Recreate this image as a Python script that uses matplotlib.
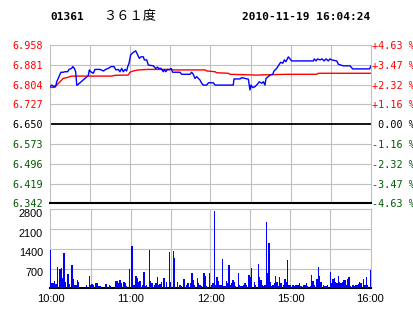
import matplotlib
matplotlib.use("Agg")
import matplotlib.pyplot as plt
from matplotlib.transforms import ScaledTranslation

# ---------------- data ----------------
# x positions are trading minutes since 10:00 (10:00-12:30, 14:30-16:00 => 0..240)
time_ticks = [0, 60, 120, 180, 240]
time_labels = ["10:00", "11:00", "12:00", "15:00", "16:00"]
grid_minutes = [30, 60, 90, 120, 150, 180, 210]

prev_close = 6.650
price_ticks = [6.958, 6.881, 6.804, 6.727, 6.650, 6.573, 6.496, 6.419, 6.342]
pct_labels = ["+4.63 %", "+3.47 %", "+2.32 %", "+1.16 %", " 0.00 %",
              "-1.16 %", "-2.32 %", "-3.47 %", "-4.63 %"]

price_t = [0, 1.3, 3.0, 4.5, 5.0, 6.2, 7.5, 8.2, 9.9, 11.2, 13.2, 14.2, 16.2, 17.0,
           18.2, 19.2, 20.0, 20.4, 28.6, 29.4, 30.4, 32.4, 33.6, 37.4, 39.9, 41.6,
           43.6, 45.6, 47.9, 49.3, 51.1, 52.3, 53.6, 54.8, 56.1, 57.3, 58.1, 59.1,
           60.3, 61.5, 63.0, 64.1, 65.6, 66.8, 68.0, 69.8, 70.5, 72.3, 73.5, 77.2,
           79.0, 80.5, 81.0, 83.0, 84.7, 85.5, 86.5, 88.0, 89.2, 90.5, 91.7, 97.2,
           98.5, 104.7, 105.9, 107.1, 108.4, 109.7, 110.9, 112.1, 113.4, 114.6,
           117.2, 118.4, 122.1, 123.4, 137.0, 137.6, 142.1, 143.3, 145.8, 148.3,
           149.5, 150.3, 151.6, 153.3, 155.0, 156.5, 158.3, 159.5, 160.7, 161.5,
           163.2, 164.5, 166.5, 167.5, 169.5, 170.7, 172.5, 174.0, 175.2, 176.4,
           178.2, 179.4, 180.7, 196.9, 197.6, 198.9, 200.1, 201.9, 203.4, 204.9,
           206.4, 208.1, 209.3, 210.6, 214.4, 215.6, 219.3, 224.3, 226.3, 239.0, 240]
price_v = [6.796, 6.802, 6.796, 6.802, 6.815, 6.828, 6.844, 6.852, 6.852, 6.854, 6.854,
           6.863, 6.867, 6.874, 6.867, 6.854, 6.802, 6.802, 6.839, 6.861, 6.854, 6.848,
           6.863, 6.863, 6.857, 6.863, 6.867, 6.874, 6.874, 6.861, 6.863, 6.854, 6.867,
           6.854, 6.863, 6.857, 6.874, 6.887, 6.919, 6.926, 6.932, 6.935, 6.919, 6.906,
           6.912, 6.912, 6.900, 6.900, 6.880, 6.877, 6.867, 6.872, 6.867, 6.867, 6.854,
           6.863, 6.854, 6.863, 6.861, 6.867, 6.852, 6.852, 6.844, 6.844, 6.852, 6.844,
           6.828, 6.835, 6.828, 6.822, 6.809, 6.802, 6.802, 6.811, 6.811, 6.802, 6.802,
           6.826, 6.826, 6.831, 6.828, 6.825, 6.783, 6.802, 6.792, 6.796, 6.805, 6.815,
           6.809, 6.815, 6.802, 6.828, 6.835, 6.841, 6.844, 6.857, 6.867, 6.877, 6.891,
           6.887, 6.900, 6.893, 6.912, 6.904, 6.896, 6.896, 6.904, 6.896, 6.904, 6.900,
           6.904, 6.896, 6.904, 6.896, 6.904, 6.900, 6.896, 6.883, 6.877, 6.877, 6.865,
           6.865, 6.877]

avg_t = [0, 3.7, 5.0, 7.5, 9.9, 12.5, 15.0, 16.2, 46.1, 48.6, 58.5, 59.8, 62.3, 66.0,
         73.5, 91.0, 92.2, 115.9, 117.2, 123.4, 124.6, 133.3, 134.6, 154.5, 177.0,
         199.4, 200.6, 240]
avg_v = [6.793, 6.793, 6.802, 6.815, 6.828, 6.831, 6.835, 6.837, 6.837, 6.840, 6.841,
         6.852, 6.857, 6.861, 6.863, 6.863, 6.861, 6.861, 6.857, 6.854, 6.850, 6.848,
         6.844, 6.841, 6.844, 6.844, 6.848, 6.848]

vol_t = [0, 1, 2, 3, 4, 5, 7, 8, 9, 10, 11, 13, 14, 16, 17, 18, 19, 20, 21, 27, 29, 30,
         31, 32, 34, 35, 36, 37, 41, 42, 44, 45, 49, 50, 51, 52, 53, 55, 56, 57, 59, 61,
         62, 63, 64, 65, 66, 67, 69, 70, 71, 72, 74, 75, 76, 78, 79, 80, 81, 82, 83, 85,
         87, 89, 90, 92, 93, 95, 97, 98, 100, 102, 103, 105, 106, 107, 108, 110, 111, 112,
         113, 115, 116, 117, 119, 121, 122, 123, 124, 125, 126, 127, 128, 129, 130, 131,
         132, 133, 134, 135, 136, 137, 138, 139, 141, 142, 143, 144, 145, 146, 147, 149,
         150, 151, 153, 154, 156, 157, 158, 159, 160, 161, 162, 163, 164, 165, 166, 167,
         168, 169, 170, 171, 172, 173, 175, 176, 177, 178, 179, 180, 182, 183, 184, 185,
         186, 187, 188, 190, 191, 192, 193, 195, 196, 197, 198, 200, 201, 202, 203, 205,
         206, 207, 208, 210, 211, 212, 213, 214, 215, 216, 217, 218, 219, 220, 221, 222,
         223, 224, 225, 227, 228, 229, 230, 231, 232, 233, 235, 236, 237, 238, 240]
vol_v = [1350, 180, 180, 260, 150, 770, 680, 710, 350, 1260, 230, 510, 150, 830, 320, 100,
         100, 290, 230, 110, 440, 110, 150, 110, 180, 180, 90, 90, 150, 150, 110, 90, 260,
         260, 180, 290, 180, 230, 180, 90, 680, 1510, 110, 110, 440, 350, 230, 260, 110,
         590, 90, 110, 1360, 260, 180, 110, 180, 410, 110, 150, 230, 350, 230, 1280, 230,
         1330, 1090, 230, 110, 90, 320, 110, 180, 200, 530, 290, 110, 350, 180, 110, 90,
         530, 440, 90, 555, 110, 180, 2750, 110, 410, 260, 110, 110, 1030, 90, 90, 260,
         200, 830, 110, 180, 290, 230, 90, 555, 110, 90, 90, 110, 180, 110, 470, 390, 710,
         230, 110, 860, 410, 290, 110, 90, 110, 2360, 555, 1590, 230, 90, 110, 200, 440,
         230, 90, 410, 180, 110, 330, 230, 1000, 110, 110, 110, 90, 110, 110, 110, 200,
         90, 110, 110, 180, 90, 90, 470, 260, 110, 320, 740, 440, 230, 110, 90, 90, 110,
         590, 180, 330, 350, 230, 180, 440, 230, 200, 230, 290, 290, 110, 330, 390, 90,
         110, 90, 110, 110, 150, 230, 200, 320, 110, 390, 110, 650]
vol_ticks = [700, 1400, 2100, 2800]

RED = "#ff0000"
GREEN = "#005a00"
GRID = "#c0c0c0"

W, H = 414, 314
fig = plt.figure(figsize=(W / 100, H / 100), dpi=100)
fig.patch.set_facecolor("white")

def rect(x0, y0, x1, y1):
    return [x0 / W, 1 - y1 / H, (x1 - x0) / W, (y1 - y0) / H]

mono = "DejaVu Sans Mono"
GLW = 0.8

# ---------------- price panel ----------------
ax = fig.add_axes(rect(50, 45, 371, 203.3))
ax.set_xlim(0, 240)
ax.set_ylim(price_ticks[-1], price_ticks[0])
for m in grid_minutes:
    ax.axvline(m, color=GRID, lw=GLW, zorder=1)
for p in price_ticks[1:-1]:
    if p == prev_close:
        ax.axhline(p, color="black", lw=1.3, zorder=2)
    else:
        ax.axhline(p, color=GRID, lw=GLW, zorder=1)
ax.plot(avg_t, avg_v, color=RED, lw=1.0, zorder=3)
ax.plot(price_t, price_v, color="#0000ff", lw=1.0, zorder=4)
ax.set_xticks([])
ax.set_yticks(price_ticks)
ax.set_yticklabels([f"{p:.3f}" for p in price_ticks], fontsize=7.3, family=mono)
ax.tick_params(axis="y", length=0, pad=5)
for lab, p in zip(ax.get_yticklabels(), price_ticks):
    lab.set_color(RED if p > prev_close else ("black" if p == prev_close else GREEN))
for s in ["left", "right", "top"]:
    ax.spines[s].set_color(GRID)
    ax.spines[s].set_linewidth(GLW)
ax.spines["bottom"].set_color("black")
ax.spines["bottom"].set_linewidth(1.5)

ax2 = ax.twinx()
ax2.set_ylim(ax.get_ylim())
ax2.set_yticks(price_ticks)
ax2.set_yticklabels(pct_labels, fontsize=7.3, family=mono)
ax2.tick_params(axis="y", length=0, pad=1)
for lab, p in zip(ax2.get_yticklabels(), price_ticks):
    lab.set_color(RED if p > prev_close else ("black" if p == prev_close else GREEN))
for s in ax2.spines.values():
    s.set_visible(False)

# ---------------- volume panel ----------------
bx = fig.add_axes(rect(50, 209.3, 371, 288.3))
bx.set_xlim(-0.4, 240.4)
bx.set_ylim(0, 2800)
for m in grid_minutes:
    bx.axvline(m, color=GRID, lw=GLW, zorder=1)
for v in vol_ticks[:-1]:
    bx.axhline(v, color=GRID, lw=GLW, zorder=1)
bx.bar(vol_t, vol_v, width=1.0, color="#0000ff", linewidth=0, zorder=3,
       antialiased=False)
bx.set_yticks(vol_ticks)
bx.set_yticklabels([str(v) for v in vol_ticks], fontsize=7.8, family="Liberation Sans")
bx.tick_params(axis="y", length=0, pad=5)
off = ScaledTranslation(0, -3.5 / 100, fig.dpi_scale_trans)
for lab in bx.get_yticklabels():
    lab.set_transform(lab.get_transform() + off)
bx.set_xticks(time_ticks)
bx.set_xticklabels(time_labels, fontsize=8, family="Liberation Sans")
bx.tick_params(axis="x", length=0, pad=4)
for s in ["left", "right", "top"]:
    bx.spines[s].set_color(GRID)
    bx.spines[s].set_linewidth(GLW)
bx.spines["bottom"].set_color("black")
bx.spines["bottom"].set_linewidth(1.5)

# ---------------- header ----------------
fig.text(50 / W, 1 - 17 / H, "01361", fontsize=8, family=mono, weight="bold",
         va="center", ha="left")
fig.text(103 / W, 1 - 17 / H, "３６１度", fontsize=9.5,
         family=["Noto Sans CJK SC", "DejaVu Sans"], va="center", ha="left")
fig.text(370 / W, 1 - 17 / H, "2010-11-19 16:04:24", fontsize=8, family=mono,
         weight="bold", va="center", ha="right")

fig.savefig("out.png", dpi=100)
